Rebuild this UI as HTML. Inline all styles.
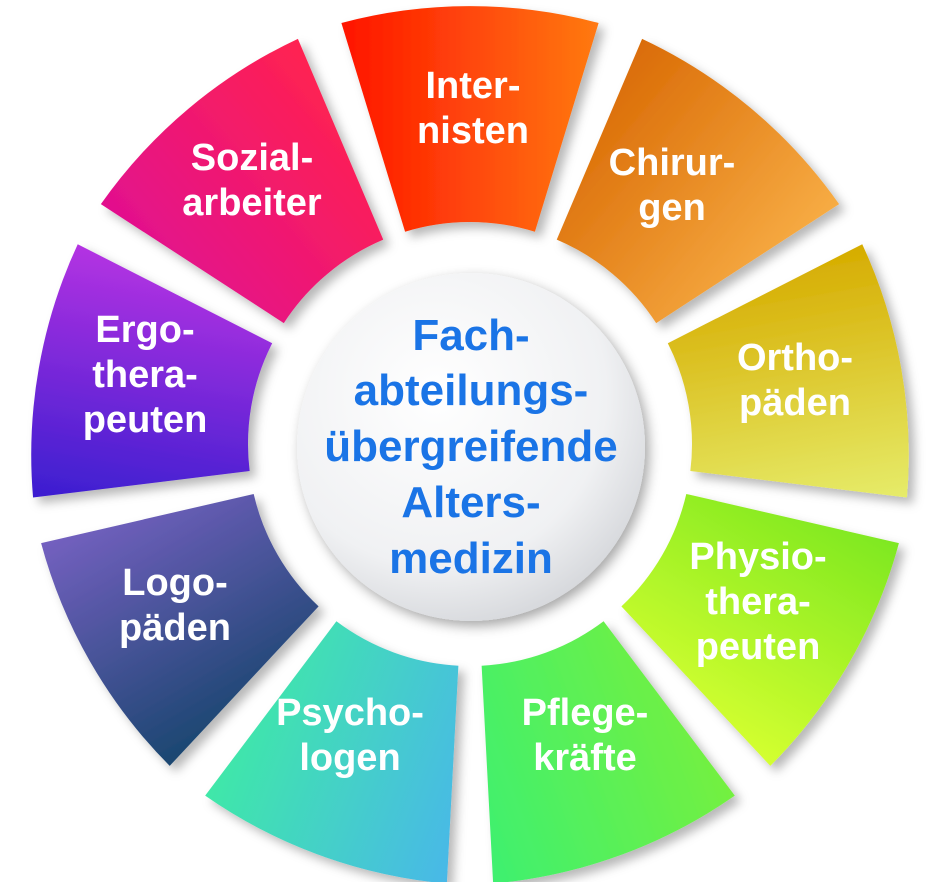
<!DOCTYPE html>
<html><head><meta charset="utf-8"><style>
html,body{margin:0;padding:0;background:#fff}
svg{display:block}
text{font-family:"Liberation Sans",sans-serif;font-weight:bold}
</style></head><body>
<svg width="935" height="882" viewBox="0 0 935 882" xmlns="http://www.w3.org/2000/svg">
<defs>
<filter id="sh" x="-30%" y="-30%" width="160%" height="160%"><feDropShadow dx="6" dy="6" stdDeviation="5" flood-color="#000" flood-opacity="0.28"/></filter>
<filter id="sh2" x="-30%" y="-30%" width="160%" height="160%"><feDropShadow dx="4" dy="5" stdDeviation="6" flood-color="#000" flood-opacity="0.35"/></filter>
<linearGradient id="g0" x1="0" y1="0" x2="1" y2="0"><stop offset="0" stop-color="#ff1400"/><stop offset="1" stop-color="#ff7a12"/></linearGradient>
<linearGradient id="g1" x1="0" y1="0" x2="1" y2="0"><stop offset="0" stop-color="#da6c06"/><stop offset="1" stop-color="#f7ac44"/></linearGradient>
<linearGradient id="g2" x1="0" y1="0" x2="1" y2="0"><stop offset="0" stop-color="#d6ac00"/><stop offset="1" stop-color="#e6ec6a"/></linearGradient>
<linearGradient id="g3" x1="0" y1="0" x2="1" y2="0"><stop offset="0" stop-color="#7ee820"/><stop offset="1" stop-color="#d4ff30"/></linearGradient>
<linearGradient id="g4" x1="0" y1="0" x2="1" y2="0"><stop offset="0" stop-color="#74f040"/><stop offset="1" stop-color="#3ef070"/></linearGradient>
<linearGradient id="g5" x1="0" y1="0" x2="1" y2="0"><stop offset="0" stop-color="#48b8e8"/><stop offset="1" stop-color="#40e8a8"/></linearGradient>
<linearGradient id="g6" x1="0" y1="0" x2="1" y2="0"><stop offset="0" stop-color="#1a4670"/><stop offset="1" stop-color="#7460c0"/></linearGradient>
<linearGradient id="g7" x1="0" y1="0" x2="1" y2="0"><stop offset="0" stop-color="#3a1ed0"/><stop offset="1" stop-color="#b432e2"/></linearGradient>
<linearGradient id="g8" x1="0" y1="0" x2="1" y2="0"><stop offset="0" stop-color="#e2108e"/><stop offset="1" stop-color="#ff2250"/></linearGradient>
<radialGradient id="cg" cx="0.4" cy="0.35" r="0.7"><stop offset="0" stop-color="#ffffff"/><stop offset="0.7" stop-color="#f0f1f3"/><stop offset="1" stop-color="#d4d6da"/></radialGradient>
<path id="seg" d="M 341.4 23 A 500 500 0 0 1 598.6 23 L 534.9 231.7 A 222 222 0 0 0 405.1 231.7 Z"/>
</defs>
<g filter="url(#sh)">
<use href="#seg" fill="url(#g0)" transform="rotate(0 470 444)"/>
<use href="#seg" fill="url(#g1)" transform="rotate(40 470 444)"/>
<use href="#seg" fill="url(#g2)" transform="rotate(80 470 444)"/>
<use href="#seg" fill="url(#g3)" transform="rotate(120 470 444)"/>
<use href="#seg" fill="url(#g4)" transform="rotate(160 470 444)"/>
<use href="#seg" fill="url(#g5)" transform="rotate(200 470 444)"/>
<use href="#seg" fill="url(#g6)" transform="rotate(240 470 444)"/>
<use href="#seg" fill="url(#g7)" transform="rotate(280 470 444)"/>
<use href="#seg" fill="url(#g8)" transform="rotate(320 470 444)"/>
</g>
<g fill="#fff" font-size="38" text-anchor="middle">
<text x="473" y="98">Inter-</text><text x="473" y="143">nisten</text>
<text x="672" y="175">Chirur-</text><text x="672" y="220">gen</text>
<text x="795" y="370">Ortho-</text><text x="795" y="415">päden</text>
<text x="758" y="569">Physio-</text><text x="758" y="614">thera-</text><text x="758" y="659">peuten</text>
<text x="585" y="725">Pflege-</text><text x="585" y="770">kräfte</text>
<text x="350" y="725">Psycho-</text><text x="350" y="770">logen</text>
<text x="175" y="595">Logo-</text><text x="175" y="640">päden</text>
<text x="145" y="342">Ergo-</text><text x="145" y="387">thera-</text><text x="145" y="432">peuten</text>
<text x="252" y="170">Sozial-</text><text x="252" y="215">arbeiter</text>
</g>
<circle cx="471" cy="447" r="174" fill="url(#cg)" filter="url(#sh2)"/>
<g fill="#1a74e6" font-size="44" text-anchor="middle">
<text x="471" y="350">Fach-</text>
<text x="471" y="405">abteilungs-</text>
<text x="471" y="461">übergreifende</text>
<text x="471" y="517">Alters-</text>
<text x="471" y="573">medizin</text>
</g>
</svg>
</body></html>
